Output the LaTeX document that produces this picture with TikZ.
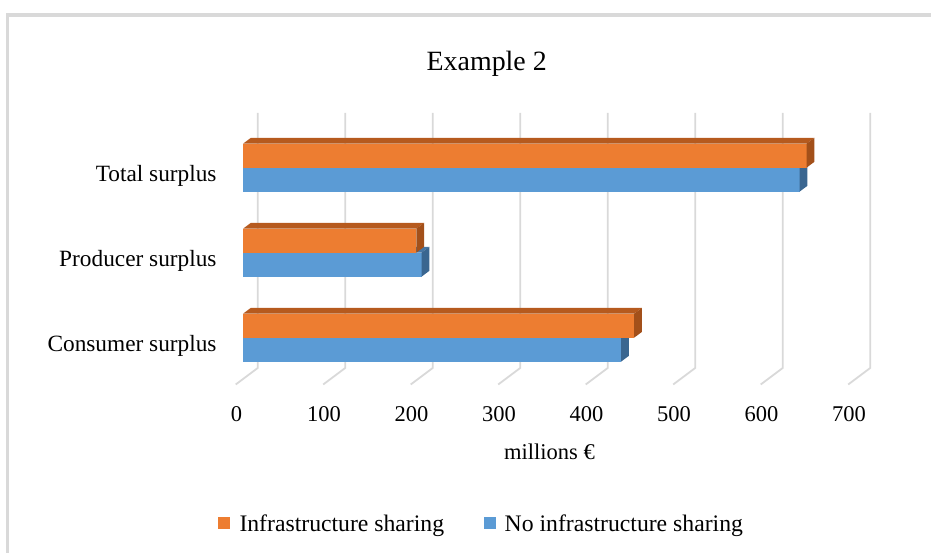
\documentclass[tikz,border=0pt]{standalone}
\usepackage{fontspec}
\setmainfont{Liberation Serif}
\definecolor{barorange}{HTML}{ED7D31}
\definecolor{orangetop}{HTML}{B65A1E}
\definecolor{orangeside}{HTML}{A3501A}
\definecolor{barblue}{HTML}{5B9BD5}
\definecolor{bluetop}{HTML}{4676A4}
\definecolor{blueside}{HTML}{3A6690}
\definecolor{gridgray}{HTML}{D9D9D9}
\tikzset{
  gridline/.style={draw=gridgray, line width=1.8pt},
  catlabel/.style={font=\fontsize{23.3}{28}\selectfont, anchor=base east, inner sep=0pt},
  ticklabel/.style={font=\fontsize{22.5}{27}\selectfont, anchor=base, inner sep=0pt},
  legendtext/.style={font=\fontsize{23.7}{28}\selectfont, anchor=base west, inner sep=0pt}
}
% one 3d bar: top y, value, front, top, side colour
\newcommand{\surplusbar}[5]{%
  \fill[#4] (243,#1) -- ++(7.8,-5.8) -- ++({0.875*#2},0) -- ++(-7.8,5.8) -- cycle;
  \fill[#3] (243,#1) rectangle ++({0.875*#2},24);
  \fill[#5] ({243+0.875*#2},#1) -- ++(7.8,-5.8) -- ++(0,24) -- ++(-7.8,5.8) -- cycle;
}
\begin{document}
\begin{tikzpicture}[x=1pt,y=-1pt]
\useasboundingbox (0,0) rectangle (931,553);
\draw [gridgray, line width=3.5pt] (7.5,553) -- (7.5,15) -- (931,15);
\node [font=\fontsize{27.9}{33}\selectfont, anchor=base, inner sep=0pt] (title) at (486.7,71) {Example 2};
% grid and axis
\foreach \k in {0,...,7} {
  \pgfmathtruncatemacro{\val}{100*\k}
  \draw [gridline] ({257.7+87.5*\k},113) -- ++(0,255) -- ++(-22,16.5);
  \node [ticklabel] (tick\k) at ({236.5+87.5*\k},421) {\val};
}
\node [ticklabel] (unit) at (549.5,459) {millions €};
% bars, blue under orange
\surplusbar{167.7}{636}{barblue}{bluetop}{blueside}
\surplusbar{143.7}{644}{barorange}{orangetop}{orangeside}
\surplusbar{252.7}{204}{barblue}{bluetop}{blueside}
\surplusbar{228.7}{198}{barorange}{orangetop}{orangeside}
\surplusbar{337.7}{432}{barblue}{bluetop}{blueside}
\surplusbar{313.7}{447}{barorange}{orangetop}{orangeside}
\node [catlabel] (total) at (216.7,181.7) {Total surplus};
\node [catlabel] (producer) at (216.7,266.7) {Producer surplus};
\node [catlabel] (consumer) at (216.7,351.7) {Consumer surplus};
% legend
\fill [barorange] (217.5,517) rectangle (229.5,529);
\node [legendtext] (sharing) at (239.3,531) {Infrastructure sharing};
\fill [barblue] (484,517) rectangle (496,529);
\node [legendtext] (nosharing) at (504.5,531) {No infrastructure sharing};
\end{tikzpicture}
\end{document}
